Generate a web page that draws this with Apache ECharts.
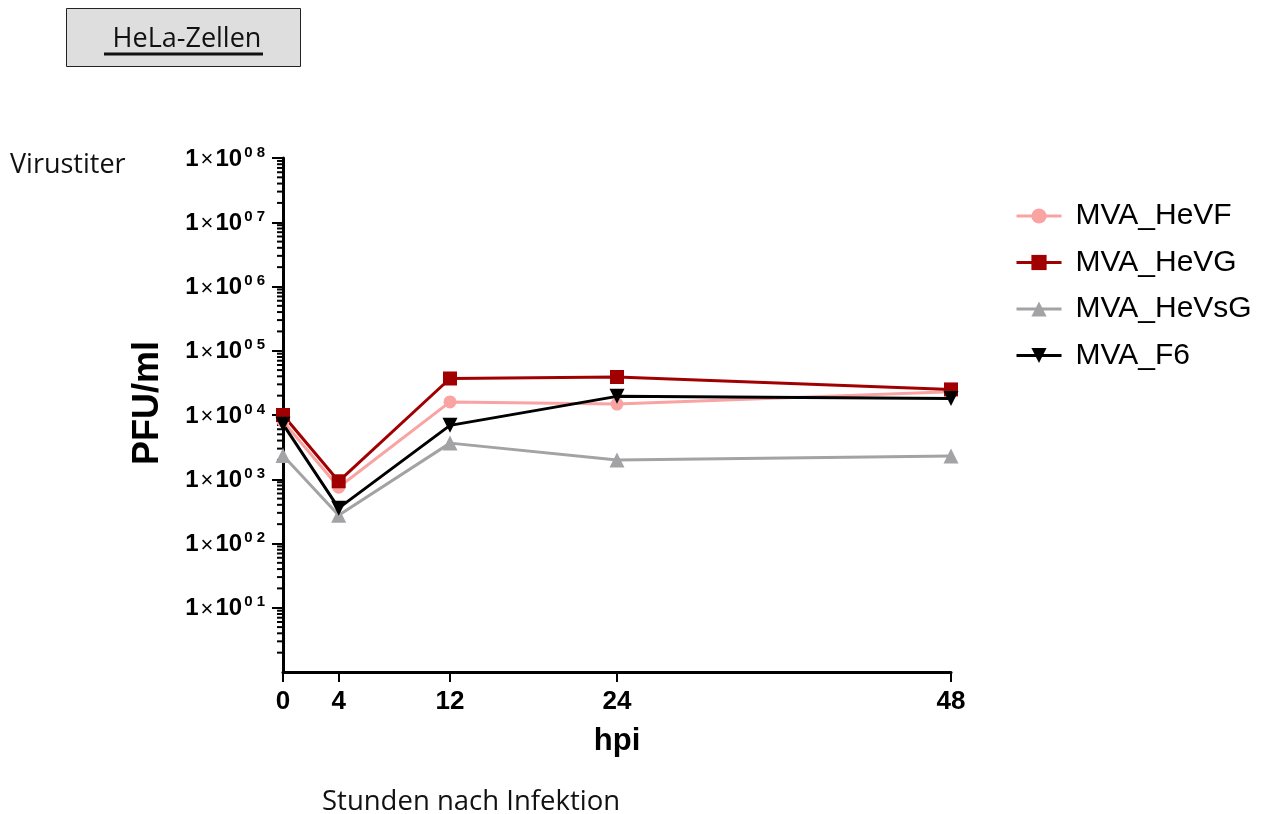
<!DOCTYPE html>
<html>
<head>
<meta charset="utf-8">
<script src="https://cdn.jsdelivr.net/npm/echarts@6/dist/echarts.min.js"></script>
<style>html,body{margin:0;padding:0;background:#fff}#c{width:1263px;height:814px}</style>
</head>
<body>
<div id="c"></div>
<script>
const hours = [0, 4, 12, 24, 48];
const xTicks = [0, 4, 12, 24, 48];
const yMajor = [10, 100, 1000, 10000, 100000, 1000000, 10000000, 100000000];
const yMinor = [2,3,4,5,6,7,8,9,20,30,40,50,60,70,80,90,200,300,400,500,600,700,800,900,
  2000,3000,4000,5000,6000,7000,8000,9000,20000,30000,40000,50000,60000,70000,80000,90000,
  2e5,3e5,4e5,5e5,6e5,7e5,8e5,9e5,2e6,3e6,4e6,5e6,6e6,7e6,8e6,9e6,2e7,3e7,4e7,5e7,6e7,7e7,8e7,9e7];
const heVF  = [8000, 750, 16000, 14800, 23000];
const heVG  = [10000, 930, 37000, 39000, 25000];
const heVsG = [2350, 275, 3650, 2000, 2300];
const f6    = [7200, 355, 6900, 19500, 18000];

const chart = echarts.init(document.getElementById('c'));
const pair = a => hours.map((h, i) => [h, a[i]]);
function ln(name, data, color, symbol, size, rot) {
  return {
    name, type: 'line', data: pair(data), symbol, symbolSize: size, symbolRotate: rot || 0,
    lineStyle: { color, width: 3 }, itemStyle: { color }, z: 3
  };
}
chart.setOption({
  animation: false,
  grid: { left: 283, top: 158, right: 312, bottom: 142 },
  xAxis: {
    type: 'value', min: 0, max: 48,
    axisLine: { lineStyle: { color: '#000', width: 3 } },
    axisTick: { customValues: xTicks, length: 10, lineStyle: { color: '#000', width: 2 } },
    axisLabel: { customValues: xTicks, margin: 17, fontFamily: 'Liberation Sans', fontWeight: 'bold', fontSize: 26, color: '#000' },
    splitLine: { show: false }
  },
  yAxis: {
    type: 'log', logBase: 10, min: 1, max: 100000000,
    axisLine: { show: true, lineStyle: { color: '#000', width: 3 } },
    axisTick: { customValues: yMajor, length: 11, lineStyle: { color: '#000', width: 2 } },
    axisLabel: {
      customValues: yMajor, margin: 18,
      formatter: v => '{a|1}{m|×}{a|10}{b|0 ' + Math.round(Math.log10(v)) + '}',
      rich: {
        a: { fontFamily: 'Liberation Sans', fontWeight: 'bold', fontSize: 24, color: '#000', lineHeight: 26, verticalAlign: 'bottom' },
        m: { fontFamily: 'Liberation Sans', fontSize: 22, color: '#000', lineHeight: 26, verticalAlign: 'bottom', padding: [0, 2, 0, 2] },
        b: { fontFamily: 'Liberation Sans', fontWeight: 'bold', fontSize: 15, color: '#000', lineHeight: 26, verticalAlign: 'top', padding: [0, 0, 8, 2] }
      }
    },
    splitLine: { show: false }
  },
  legend: {
    orient: 'vertical', left: 1010, top: 196, itemWidth: 45, itemHeight: 19, itemGap: 16.5,
    lineStyle: { width: 3 },
    textStyle: { fontFamily: 'Liberation Sans', fontSize: 30, color: '#000', padding: [0, 0, 0, 9] },
    data: ['MVA_HeVF', 'MVA_HeVG', 'MVA_HeVsG', 'MVA_F6']
  },
  graphic: [
    { type: 'rect', shape: { x: 66.5, y: 8.5, width: 234, height: 58 }, style: { fill: '#DEDEDE', stroke: '#222', lineWidth: 1 } },
    { type: 'text', x: 187, y: 39, style: { text: 'HeLa-Zellen', fontFamily: 'Open Sans', fontSize: 27, fill: '#111', align: 'center', verticalAlign: 'middle' } },
    { type: 'line', shape: { x1: 104, y1: 54, x2: 263, y2: 54 }, style: { stroke: '#111', lineWidth: 3 } },
    { type: 'text', x: 10, y: 165, style: { text: 'Virustiter', fontFamily: 'Open Sans', fontSize: 27, fill: '#111', verticalAlign: 'middle' } },
    { type: 'text', x: 322, y: 802, style: { text: 'Stunden nach Infektion', fontFamily: 'Open Sans', fontSize: 27.5, fill: '#111', verticalAlign: 'middle' } },
    { type: 'text', x: 148, y: 403, rotation: Math.PI / 2, style: { text: 'PFU/ml', fontFamily: 'Liberation Sans', fontWeight: 'bold', fontSize: 36, fill: '#000', align: 'center', verticalAlign: 'middle' } },
    { type: 'text', x: 617, y: 741, style: { text: 'hpi', fontFamily: 'Liberation Sans', fontWeight: 'bold', fontSize: 31, fill: '#000', align: 'center', verticalAlign: 'middle' } }
  ],
  series: [
    {
      type: 'custom', silent: true, z: 2,
      data: yMinor.map(v => [0, v]),
      renderItem: (params, api) => {
        const p = api.coord([0, api.value(1)]);
        return { type: 'line', shape: { x1: p[0] - 6, y1: p[1], x2: p[0], y2: p[1] }, style: { stroke: '#000', lineWidth: 2 } };
      }
    },
    ln('MVA_HeVF', heVF, '#F9A3A3', 'circle', 13),
    ln('MVA_HeVG', heVG, '#A00000', 'rect', 14),
    ln('MVA_HeVsG', heVsG, '#A3A3A6', 'triangle', 15),
    ln('MVA_F6', f6, '#000000', 'triangle', 15, 180)
  ]
});
</script>
</body>
</html>
